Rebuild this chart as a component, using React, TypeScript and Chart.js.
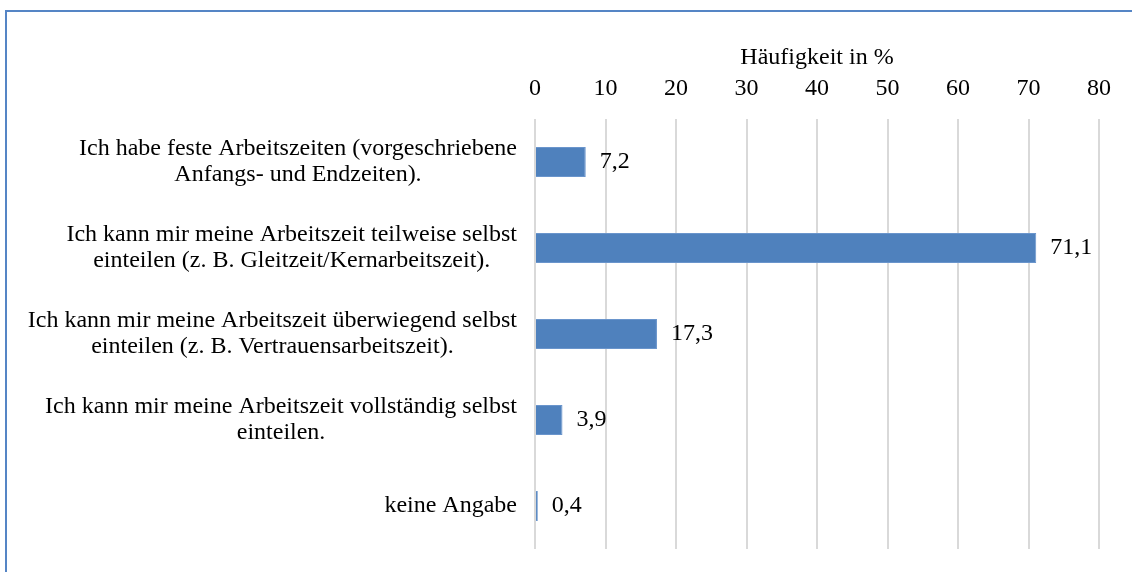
import React, { useEffect, useRef } from "react";
import { Chart, registerables } from "chart.js";

Chart.register(...registerables);

const categories: string[][] = [
  ["Ich habe feste Arbeitszeiten (vorgeschriebene", "Anfangs- und Endzeiten)."],
  ["Ich kann mir meine Arbeitszeit teilweise selbst", "einteilen (z. B. Gleitzeit/Kernarbeitszeit)."],
  ["Ich kann mir meine Arbeitszeit überwiegend selbst", "einteilen (z. B. Vertrauensarbeitszeit)."],
  ["Ich kann mir meine Arbeitszeit vollständig selbst", "einteilen."],
  ["keine Angabe"],
];
const values: number[] = [7.2, 71.1, 17.3, 3.9, 0.4];
const axisMin = 0;
const axisMax = 80;
const axisStep = 10;
const axisTitle = "Häufigkeit in %";

const FONT = '"Liberation Serif", "Times New Roman", serif';
const FONT_SIZE = 24;
const fmt = (v: number) => v.toFixed(1).replace(".", ",");

const labelPlugin = {
  id: "customLabels",
  afterDraw(chart: any) {
    const ctx = chart.ctx;
    const yScale = chart.scales.y;
    const area = chart.chartArea;
    ctx.save();
    ctx.font = `${FONT_SIZE}px ${FONT}`;
    ctx.fillStyle = "#000";
    ctx.textBaseline = "middle";
    const lh = 26;
    categories.forEach((lines, i) => {
      const y = yScale.getPixelForValue(i);
      const maxW = Math.max(...lines.map((l) => ctx.measureText(l).width));
      const cx = area.left - 18 - maxW / 2;
      ctx.textAlign = "center";
      lines.forEach((line, j) => {
        ctx.fillText(line, cx, y + (j - (lines.length - 1) / 2) * lh);
      });
    });
    const meta = chart.getDatasetMeta(0);
    ctx.textAlign = "left";
    meta.data.forEach((bar: any, i: number) => {
      ctx.fillText(fmt(values[i]), bar.x + 14, bar.y);
    });
    ctx.restore();
  },
};

export default function App() {
  const ref = useRef<HTMLCanvasElement>(null);
  useEffect(() => {
    if (!ref.current) return;
    const chart = new Chart(ref.current, {
      type: "bar",
      data: {
        labels: categories.map((c) => c.join(" ")),
        datasets: [
          {
            data: values,
            backgroundColor: "#4f81bd",
            borderColor: "#6a95cc",
            borderWidth: 1,
            categoryPercentage: 1,
            barPercentage: 0.35,
          },
        ],
      },
      options: {
        indexAxis: "y",
        animation: false,
        responsive: false,
        maintainAspectRatio: false,
        layout: { padding: { left: 535, right: 33, top: 0, bottom: 23 } },
        plugins: { legend: { display: false }, tooltip: { enabled: false } },
        scales: {
          x: {
            position: "top",
            min: axisMin,
            max: axisMax,
            ticks: {
              stepSize: axisStep,
              padding: 16,
              color: "#000",
              font: { family: FONT, size: FONT_SIZE },
            },
            grid: { color: "#d9d9d9", lineWidth: 2, drawTicks: false },
            border: { display: false },
            title: {
              display: true,
              text: axisTitle,
              color: "#000",
              font: { family: FONT, size: FONT_SIZE },
              padding: { top: 43, bottom: 0 },
            },
            afterFit: (s: any) => {
              s.height = 119;
            },
          },
          y: {
            display: false,
          },
        },
      },
      plugins: [labelPlugin],
    });
    return () => chart.destroy();
  }, []);
  return (
    <div style={{ position: "absolute", left: 0, top: 0, width: 1132, height: 572, background: "#fff" }}>
      <canvas ref={ref} width={1132} height={572} style={{ position: "absolute", left: 0, top: 0 }} />
      <div
        style={{
          position: "absolute",
          left: 5,
          top: 10,
          right: 0,
          bottom: 0,
          borderLeft: "2px solid #5585c5",
          borderTop: "2px solid #5585c5",
          pointerEvents: "none",
        }}
      />
    </div>
  );
}
